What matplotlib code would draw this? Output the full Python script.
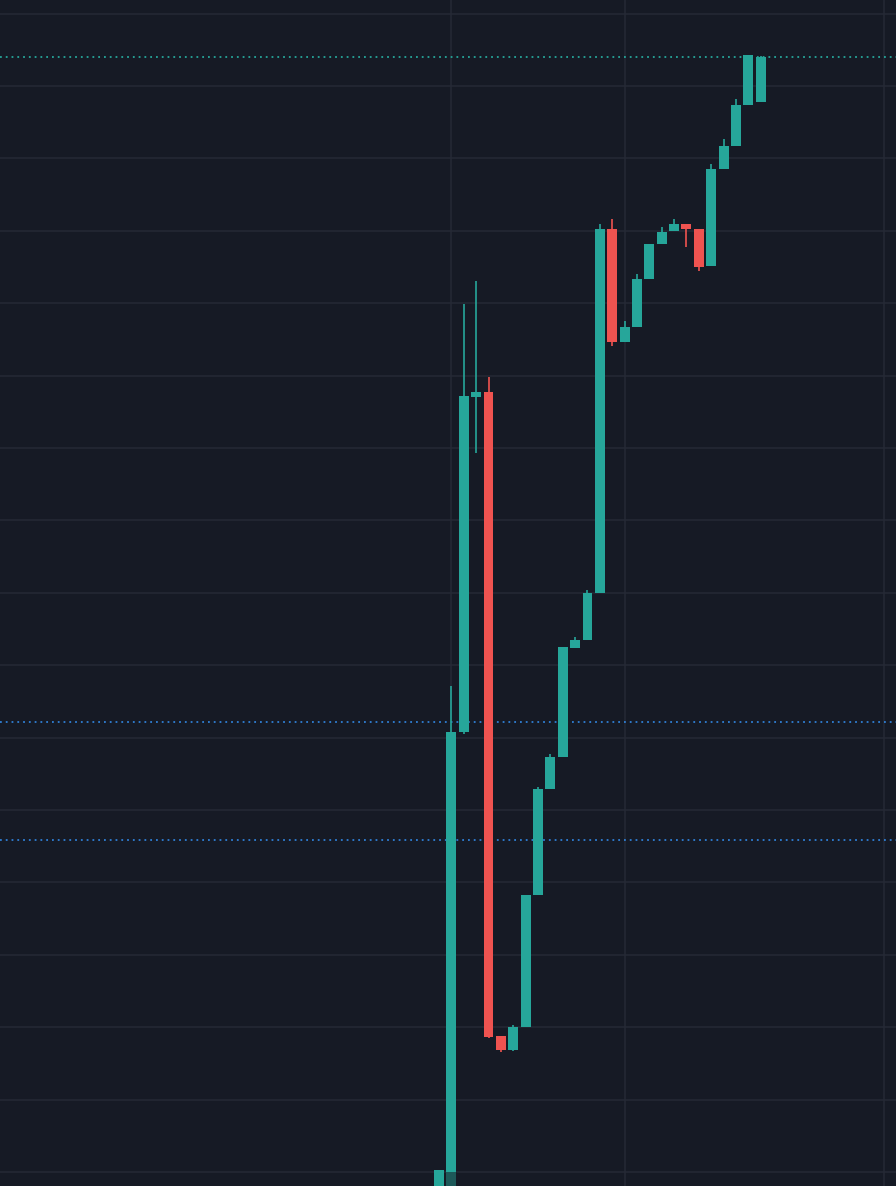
import matplotlib

matplotlib.use("Agg")
import matplotlib.pyplot as plt
import numpy as np
from matplotlib.patches import Rectangle

BG, GRID = "#161a25", "#252935"
UP, DOWN = "#26a69a", "#ef5350"
LAST, LEVEL = "#26a69a", "#2f7fd6"

# OHLC per bar (bar index 0 = first visible candle)
opens = [96.0, 97.5, 160.77, 207.04, 207.73, 118.78, 116.85, 120.03, 138.26, 152.90,
         157.32, 172.38, 173.48, 179.97, 230.25, 214.64, 216.71, 223.34, 228.18, 229.97,
         230.94, 230.25, 225.14, 238.54, 241.71, 247.38, 247.79]
highs = [100.28, 167.13, 219.89, 223.07, 209.81, 118.78, 120.30, 138.26, 153.18, 157.73,
         172.51, 173.90, 180.39, 230.94, 231.63, 217.54, 224.03, 228.18, 230.52, 231.63,
         230.94, 230.25, 239.23, 242.68, 248.20, 254.28, 254.14]
lows = [95.5, 97.0, 160.5, 199.31, 118.51, 116.57, 116.71, 120.03, 138.26, 152.90,
        157.32, 172.38, 173.48, 179.97, 214.09, 214.64, 216.71, 223.34, 228.18, 229.97,
        227.76, 224.45, 225.14, 238.54, 241.71, 247.38, 247.79]
closes = [100.28, 160.77, 207.18, 207.73, 118.65, 116.85, 120.03, 138.26, 152.90, 157.32,
          172.51, 173.48, 179.97, 230.25, 214.64, 216.71, 223.34, 228.18, 229.83, 230.94,
          230.25, 225.00, 238.54, 241.71, 247.38, 254.28, 254.01]

last_price = 254.01
levels = [162.15, 145.86]
grid_prices = np.arange(100, 261, 10)
time_grid = [1, 15, 36]

fig = plt.figure(figsize=(8.96, 11.86), dpi=100, facecolor=BG)
ax = fig.add_axes([0, 0, 1, 1])
ax.set_facecolor(BG)
ax.set_xlim(-35.49, 36.94)
ax.set_ylim(98.07, 261.88)

for p in grid_prices:
    ax.axhline(p, color=GRID, lw=1.1, zorder=0)
for t in time_grid:
    ax.axvline(t, color=GRID, lw=1.1, zorder=0)

ax.axhline(last_price, color=LAST, lw=1.3, ls=(0, (1, 2.2)), zorder=1)
for lv in levels:
    ax.axhline(lv, color=LEVEL, lw=1.3, ls=(0, (1, 2.2)), zorder=1)

x = np.arange(len(opens))
o, h, l, c = map(np.array, (opens, highs, lows, closes))
cols = np.where(c >= o, UP, DOWN)
body_lo = np.minimum(o, c)
body_h = np.maximum(np.abs(c - o), 0.15)
ax.vlines(x, l, h, colors=cols, lw=1.2, zorder=2)
ax.bar(x, body_h, bottom=body_lo, width=0.8, color=cols, lw=0, zorder=3)

# darkened strip at the very bottom over the second bar
ax.add_patch(Rectangle((0.55, 90), 0.9, 10, color=BG, alpha=0.55, lw=0, zorder=4))

ax.axis("off")
fig.savefig("out.png", dpi=100, facecolor=BG)
